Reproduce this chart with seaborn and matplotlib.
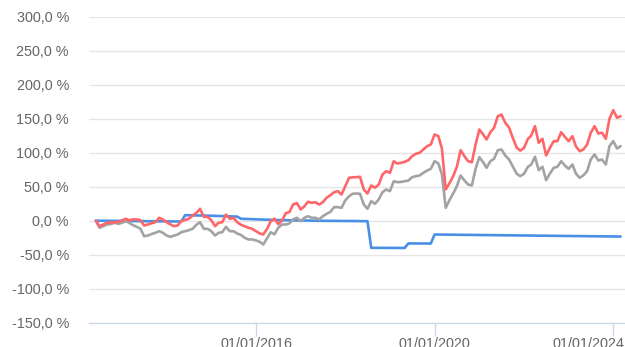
import numpy as np
import pandas as pd
import matplotlib
matplotlib.use("Agg")
import matplotlib.pyplot as plt
import matplotlib.dates as mdates
from matplotlib.ticker import FuncFormatter, FixedLocator
from matplotlib.transforms import ScaledTranslation
import seaborn as sns

# Month-end observation dates
dates = pd.date_range("2012-05-31", periods=142, freq="ME")

# Cumulative performance in %
fund = [
    0.0, -8.1, -5.6, -3.1, -2.6, -2.2, -2.2, 0.7, 2.8, 0.7,
    1.8, 1.8, 0.7, -7.1, -5.6, -3.5, -2.2, 4.3, 1.8, -2.2,
    -5.5, -8.1, -7.1, -0.7, 1.0, 2.8, 7.6, 11.6, 17.5, 5.7,
    5.7, 0.7, -8.1, -3.1, -2.2, 9.0, 2.8, 4.3, -2.2, -6.0,
    -8.1, -10.4, -11.9, -15.4, -18.8, -20.3, -12.0, -1.0, 3.0, -5.0,
    0.0, 11.0, 12.8, 24.0, 26.0, 16.5, 21.3, 27.8, 26.3, 27.2,
    23.8, 27.2, 33.7, 37.5, 41.9, 43.4, 38.5, 50.7, 63.1, 63.8,
    64.0, 64.6, 45.9, 40.0, 51.8, 48.4, 53.2, 67.9, 72.8, 70.4,
    87.5, 84.1, 85.1, 86.5, 89.0, 94.9, 98.4, 99.9, 104.7, 109.6,
    112.0, 126.8, 124.3, 106.0, 45.9, 55.0, 65.4, 79.3, 103.7, 94.9,
    87.5, 86.0, 112.0, 134.1, 126.8, 119.4, 130.1, 136.6, 153.7, 156.2,
    144.0, 137.0, 122.0, 108.0, 103.0, 107.0, 120.0, 125.3, 139.0, 114.6,
    120.4, 95.9, 107.2, 116.9, 116.9, 130.1, 123.4, 116.9, 124.3, 109.6,
    102.2, 104.7, 112.0, 129.3, 139.0, 128.2, 129.3, 120.4, 149.9, 162.5,
    151.3, 153.7,
]

benchmark = [
    0.0, -10.4, -8.1, -5.6, -5.0, -3.0, -4.6, -3.1, -0.7, -3.1,
    -6.6, -9.0, -11.9, -22.8, -21.8, -19.5, -17.8, -15.4, -17.8, -21.8,
    -23.7, -22.0, -20.3, -16.9, -15.4, -14.0, -11.9, -6.0, -2.2, -11.9,
    -11.9, -15.4, -21.8, -17.8, -16.9, -9.0, -15.4, -15.4, -18.8, -21.0,
    -25.1, -27.6, -27.6, -29.0, -31.0, -35.0, -26.0, -17.0, -20.0, -10.4,
    -5.6, -5.6, -4.0, 2.0, 4.3, -0.7, 4.3, 6.6, 4.3, 4.3,
    1.8, 6.6, 10.0, 13.0, 19.9, 19.9, 19.0, 30.0, 36.0, 39.6,
    40.0, 39.6, 23.8, 17.5, 28.7, 24.9, 31.2, 41.9, 45.9, 43.4,
    58.1, 56.6, 57.0, 58.1, 59.1, 64.0, 65.4, 66.5, 70.4, 73.8,
    76.3, 87.5, 84.1, 68.0, 19.0, 30.0, 40.0, 50.7, 66.5, 59.1,
    53.2, 51.8, 76.3, 93.4, 86.0, 77.8, 87.5, 91.0, 103.7, 104.7,
    95.9, 90.0, 80.0, 69.4, 65.4, 69.0, 79.0, 82.6, 94.0, 74.3,
    79.3, 59.6, 69.4, 77.8, 79.3, 87.5, 81.2, 76.3, 82.6, 69.4,
    63.1, 66.5, 72.8, 90.0, 97.4, 88.5, 90.0, 82.6, 109.6, 116.9,
    106.2, 109.6,
]

cash = [
    0.0, -0.1, -0.1, -0.2, -0.2, -0.3, -0.3, -0.4, -0.4, -0.5,
    -0.5, -0.6, -0.6, -0.7, -0.7, -0.8, -0.8, -0.9, -0.9, -1.0,
    -1.0, -1.1, -1.1, -1.2, 8.1, 8.0, 7.9, 7.8, 7.7, 7.6,
    7.4, 7.3, 7.1, 7.0, 6.8, 6.6, 6.4, 6.2, 6.0, 2.8,
    2.6, 2.4, 2.2, 2.0, 1.8, 1.6, 1.4, 1.2, 1.0, 0.9,
    0.8, 0.7, 0.6, 0.5, 0.4, 0.3, 0.2, 0.1, 0.0, 0.0,
    -0.1, -0.1, -0.2, -0.2, -0.3, -0.3, -0.4, -0.4, -0.5, -0.5,
    -0.6, -0.6, -0.7, -0.7, -39.9, -39.9, -39.9, -40.0, -40.0, -40.0,
    -40.0, -40.1, -40.1, -40.1, -33.4, -33.4, -33.5, -33.5, -33.5, -33.6,
    -33.6, -20.3, -20.4, -20.4, -20.5, -20.5, -20.6, -20.7, -20.7, -20.8,
    -20.8, -20.9, -21.0, -21.0, -21.1, -21.1, -21.2, -21.3, -21.3, -21.4,
    -21.4, -21.5, -21.6, -21.6, -21.7, -21.7, -21.8, -21.9, -21.9, -22.0,
    -22.0, -22.1, -22.2, -22.2, -22.3, -22.3, -22.4, -22.5, -22.5, -22.6,
    -22.6, -22.7, -22.8, -22.8, -22.9, -22.9, -23.0, -23.1, -23.1, -23.2,
    -23.2, -23.3,
]

series_order = ["cash", "benchmark", "fund"]
palette = {"cash": "#4a8fe6", "benchmark": "#a3a3a3", "fund": "#ff6669"}

y_ticks = [-150, -100, -50, 0, 50, 100, 150, 200, 250, 300]
x_ticks = ["2016-01-01", "2020-01-01", "2024-01-01"]

df = pd.DataFrame({
    "date": np.tile(dates, 3),
    "value": cash + benchmark + fund,
    "series": np.repeat(series_order, len(dates)),
})

sns.set_theme(style="white")
plt.rcParams["font.family"] = ["Liberation Sans", "DejaVu Sans"]

fig = plt.figure(figsize=(6.25, 3.47), dpi=100)
ax = fig.add_axes([89 / 625, 24.3 / 347, 536 / 625, 306 / 347])

sns.lineplot(
    data=df, x="date", y="value", hue="series", hue_order=series_order,
    palette=palette, estimator=None, linewidth=1.9, legend=False, ax=ax,
    solid_capstyle="round", solid_joinstyle="round",
)

ax.set_ylim(-150, 300)
ax.set_xlim(pd.Timestamp("2012-04-05"), pd.Timestamp("2024-04-05"))

ax.yaxis.set_major_locator(FixedLocator(y_ticks))
ax.yaxis.set_major_formatter(
    FuncFormatter(lambda v, _: f"{v:.1f}".replace(".", ",") + " %"))
ax.xaxis.set_major_locator(FixedLocator(
    [mdates.date2num(pd.Timestamp(d)) for d in x_ticks]))
ax.xaxis.set_major_formatter(mdates.DateFormatter("%d/%m/%Y"))

ax.grid(axis="y", color="#e6e6e6", linewidth=0.95)
ax.grid(axis="x", visible=False)
ax.set_axisbelow(True)

for side in ["top", "right", "left"]:
    ax.spines[side].set_visible(False)
ax.spines["bottom"].set_color("#ccd6eb")
ax.spines["bottom"].set_linewidth(0.95)
ax.spines["bottom"].set_zorder(5)

ax.tick_params(axis="y", length=0, pad=14.4, labelsize=10.4, labelcolor="#666666")
ax.tick_params(axis="x", length=9, width=0.95, color="#ccd6eb", pad=1.0,
               labelsize=10.4, labelcolor="#666666", bottom=True)

ax.set_xlabel("")
ax.set_ylabel("")

# Keep the last date label inside the canvas: align it to the right edge
fig.canvas.draw()
last = ax.get_xticklabels()[-1]
last.set_horizontalalignment("right")
last.set_transform(last.get_transform()
                   + ScaledTranslation(11 / 100, 0, fig.dpi_scale_trans))

fig.savefig("out.png", dpi=100)
